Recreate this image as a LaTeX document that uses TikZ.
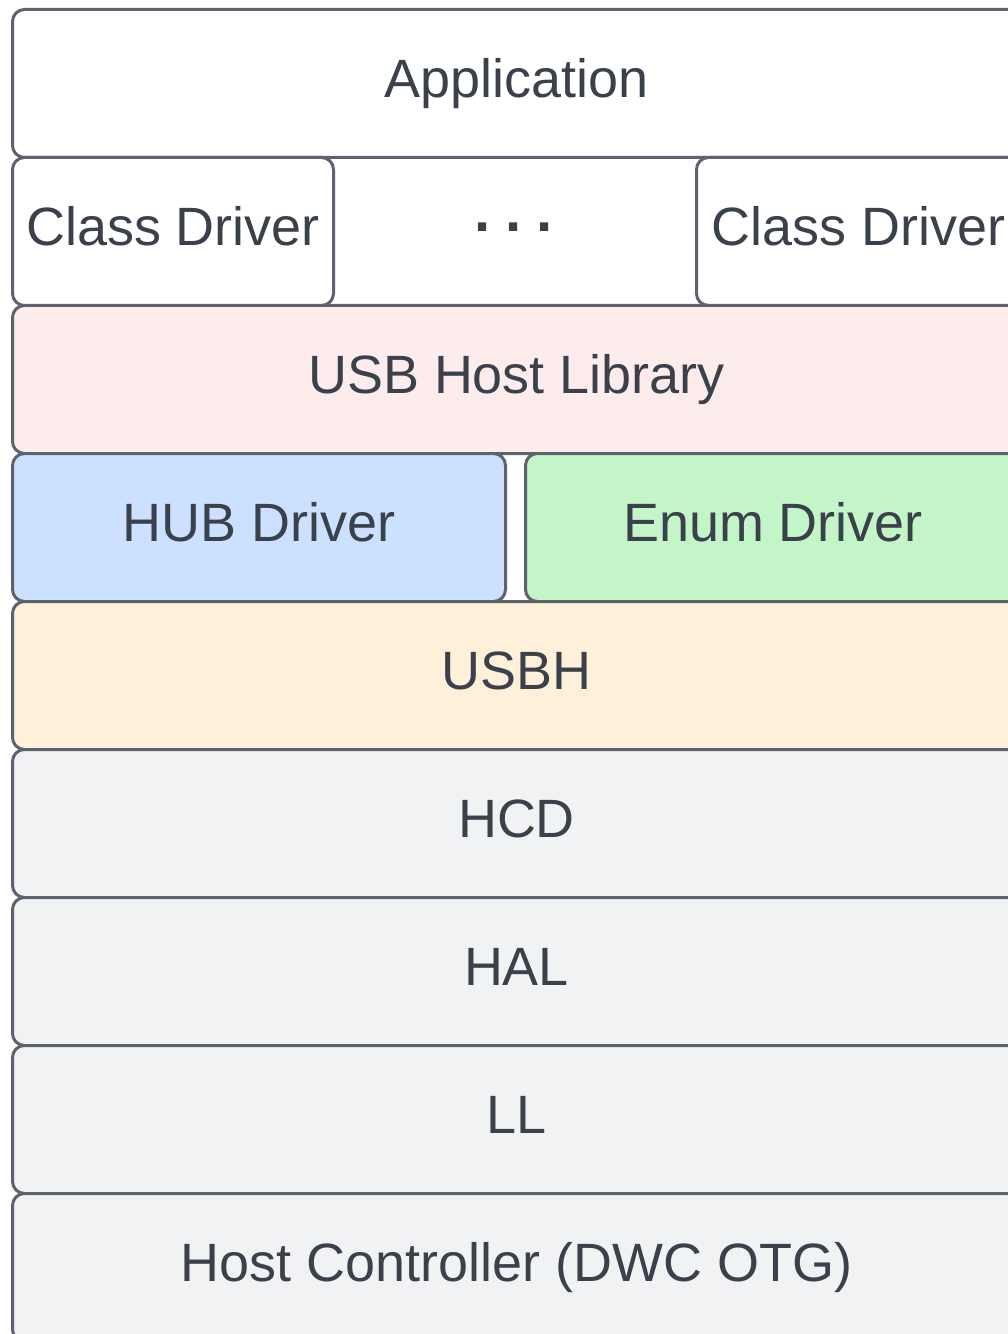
\documentclass[tikz,border=0pt]{standalone}
\usepackage{fontspec}
\setmainfont{Liberation Sans}
\definecolor{linea}{RGB}{92,99,109}
\definecolor{texto}{RGB}{58,65,75}
\definecolor{rosa}{RGB}{253,236,236}
\definecolor{azul}{RGB}{204,224,255}
\definecolor{verde}{RGB}{196,245,200}
\definecolor{crema}{RGB}{255,240,217}
\definecolor{gris}{RGB}{241,242,244}

\begin{document}
\begin{tikzpicture}[
                capa/.style={
                    rectangle,
                    rounded corners=0.24cm,
                    fill=white,
                    draw=linea,
                    line width=0.06cm,
                    minimum height=2.96cm,
                    inner sep=0pt,
                    text=texto,
                    font=\fontsize{30.7}{36}\selectfont,
                    text height=22.4pt,
                    text depth=6pt
                },
                ancha/.style={capa, minimum width=20.16cm}
            ]
                \useasboundingbox (0,0) rectangle (20.16,-26.68);
                \clip (0,0) rectangle (20.16,-26.68);
                \fill[white] (0,0) rectangle (20.16,-26.68);
                \node[ancha, anchor=north west] (app) at (0.22,-0.16) {Application};
                \node[capa, anchor=north west, minimum width=6.42cm] (cd1) at (0.22,-3.12) {Class Driver};
                \node[capa, anchor=north west, minimum width=6.48cm] (cd2) at (13.9,-3.12) {Class Driver};
                \node[text=texto, font=\fontsize{33}{36}\selectfont\bfseries, anchor=base, inner sep=0pt] (dots) at (10.27,-4.64) {.\hspace{0.26em}.\hspace{0.26em}.};
                \node[ancha, anchor=north west, fill=rosa] (lib) at (0.22,-6.08) {USB Host Library};
                \node[capa, anchor=north west, minimum width=9.86cm, fill=azul] (hub) at (0.22,-9.04) {HUB Driver};
                \node[capa, anchor=north west, minimum width=9.9cm, fill=verde] (enum) at (10.48,-9.04) {Enum Driver};
                \node[ancha, anchor=north west, fill=crema] (usbh) at (0.22,-12.0) {USBH};
                \node[ancha, anchor=north west, fill=gris] (hcd) at (0.22,-14.96) {HCD};
                \node[ancha, anchor=north west, fill=gris] (hal) at (0.22,-17.92) {HAL};
                \node[ancha, anchor=north west, fill=gris] (ll) at (0.22,-20.88) {LL};
                \node[ancha, anchor=north west, fill=gris] (hc) at (0.22,-23.84) {Host Controller (DWC OTG)};
            \end{tikzpicture}
\end{document}
